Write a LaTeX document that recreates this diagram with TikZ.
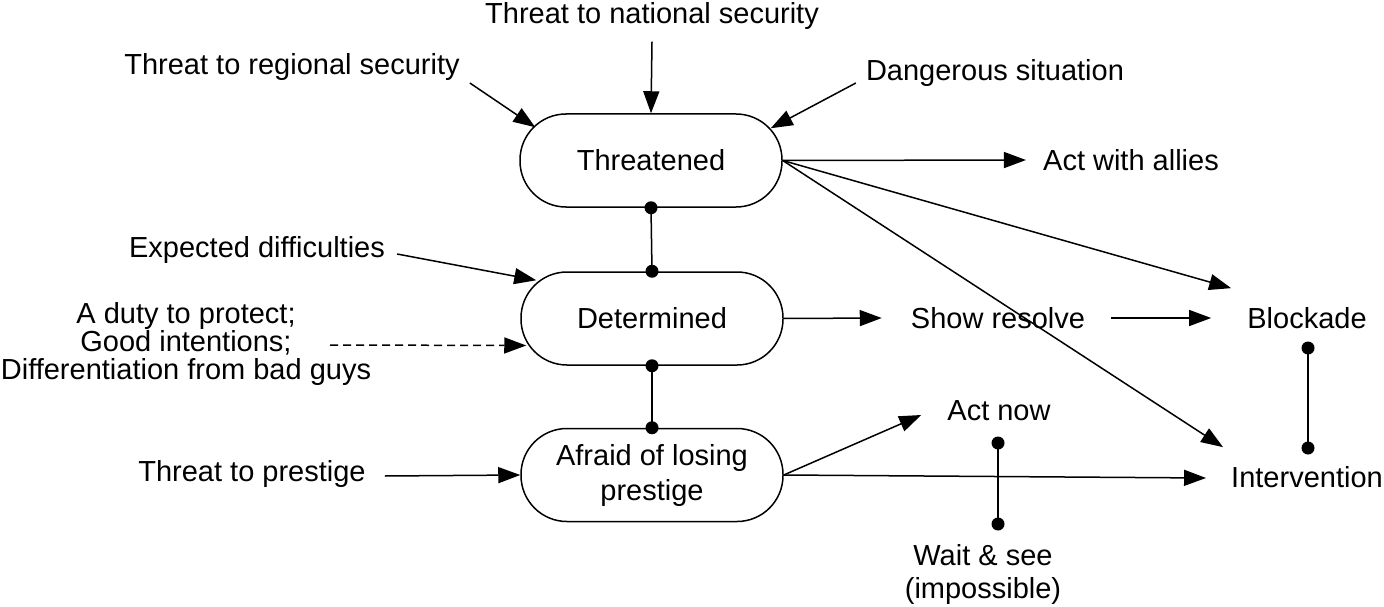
\documentclass[tikz,border=0pt]{standalone}
\usepackage{fontspec}
\setmainfont{Liberation Sans}
\usetikzlibrary{arrows.meta,calc}
\tikzset{
        % the three states in the middle column
        state/.style={draw, line width=1.5pt, rounded corners=46pt,
            minimum width=262pt, minimum height=93pt, align=center,
            font=\fontsize{29}{35}\selectfont},
        txt/.style={inner sep=0pt, align=center, font=\fontsize{29}{35}\selectfont},
        arr/.style={line width=1.5pt, -{Triangle[length=22pt,width=16pt]}},
        link/.style={line width=1.5pt}
    }

\begin{document}
\begin{tikzpicture}[x=1pt,y=1pt,yscale=-1]
\useasboundingbox (0,0) rectangle (1384,607);

% States
\node [state] (thr) at (651,160.5) {Threatened};
\node [state] (det) at (652,318.5) {Determined};
\node [state] (afr) at (652,475) {Afraid of losing\\prestige};

% Text Node
\node [txt] (nat) at (652,16) {Threat to national security};
% Text Node
\node [txt] (reg) at (292,67) {Threat to regional security};
% Text Node
\node [txt] (dang) at (995,73) {Dangerous situation};
% Text Node
\node [txt] (allies) at (1131,160) {Act with allies};
% Text Node
\node [txt] (exp) at (257,250) {Expected difficulties};
% Text Node
\node [txt, font=\fontsize{29}{28}\selectfont] (duty) at (186,344) {A duty to protect;\\Good intentions;\\Differentiation from bad guys};
% Text Node
\node [txt] (show) at (998,318) {Show resolve};
% Text Node
\node [txt] (blk) at (1307,318) {Blockade};
% Text Node
\node [txt] (now) at (999,411) {Act now};
% Text Node
\node [txt] (prest) at (252,474) {Threat to prestige};
% Text Node
\node [txt] (int) at (1307,477) {Intervention};
% Text Node
\node [txt, font=\fontsize{29}{33}\selectfont] (wait) at (983,574) {Wait \& see\\(impossible)};

% dot ends of the plain links
\coordinate (blkdot) at (1308,348);
\coordinate (intdot) at (1308,448);
\coordinate (nowdot) at (998,443);
\coordinate (waitdot) at (998,524);

% Arrows into Threatened
\draw [arr] ($(reg.east)+(10,16)$) -- ($(thr.north west)+(16,14)$);
\draw [arr] ($(nat.south)+(0,12)$) -- (thr.north);
\draw [arr] ($(dang.west)+(-10,10)$) -- ($(thr.north east)+(-12,15)$);

% Arrows out of Threatened
\draw [arr] (thr.east) -- ($(allies.west)+(-17,0)$);
\draw [arr] (thr.east) -- ($(blk.north west)+(-16,-19)$);
\draw [arr] (thr.east) -- ($(int.north west)+(-8,-19)$);

% Determined
\draw [arr] ($(exp.east)+(12,4)$) -- ($(det.north west)+(16,9)$);
\draw [arr, dash pattern=on 8pt off 5pt] ($(duty.center)+(144,1)$) -- ($(det.west)+(6,27)$);
\draw [arr] (det.east) -- ($(show.west)+(-29,0)$);
\draw [arr] ($(show.east)+(26,0)$) -- ($(blk.west)+(-36,0)$);

% Afraid of losing prestige
\draw [arr] ($(prest.east)+(19,2)$) -- (afr.west);
\draw [arr] (afr.east) -- ($(now.west)+(-26,4)$);
\draw [arr] (afr.east) -- ($(int.west)+(-25,1)$);

% Plain links with dots
\draw [link] (thr.south) -- (det.north);
\draw [link] (det.south) -- (afr.north);
\draw [link] (blkdot) -- (intdot);
\draw [link] (nowdot) -- (waitdot);
\foreach \p in {thr.south, det.north, det.south, afr.north, blkdot, intdot, nowdot, waitdot}
    \fill (\p) circle [radius=6.5pt];

\end{tikzpicture}
\end{document}
